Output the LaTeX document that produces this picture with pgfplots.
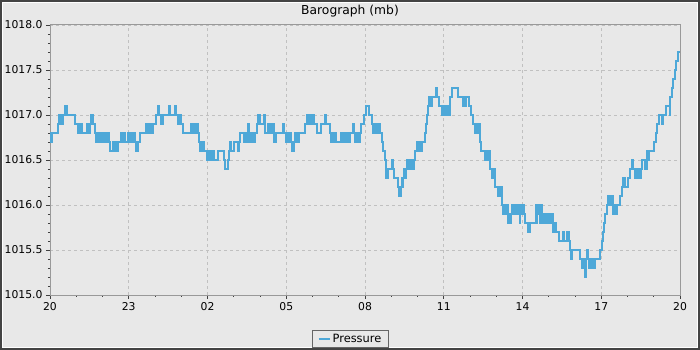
\documentclass[border=0pt]{standalone}
\usepackage{fontspec}
\setmainfont{DejaVu Sans}
\usepackage{pgfplots}
\usepackage{pgfplotstable}
\pgfplotsset{compat=1.18}
\definecolor{bgc}{RGB}{232,232,232}
\definecolor{framec}{RGB}{68,68,68}
\definecolor{linec}{RGB}{78,168,216}
\definecolor{axisc}{RGB}{153,153,153}
\definecolor{gridc}{RGB}{192,192,192}

\pgfplotstableread{
h v
0.00 1016.7
0.03 1016.8
0.06 1016.7
0.09 1016.8
0.30 1016.9
0.36 1017.0
0.40 1016.9
0.48 1017.0
0.58 1017.1
0.66 1017.0
0.94 1016.9
1.06 1016.8
1.08 1016.9
1.11 1016.8
1.14 1016.9
1.17 1016.8
1.20 1016.9
1.23 1016.8
1.40 1016.9
1.43 1016.8
1.46 1016.9
1.49 1016.8
1.52 1016.9
1.55 1017.0
1.63 1016.9
1.70 1016.8
1.77 1016.7
1.80 1016.8
1.84 1016.7
1.88 1016.8
1.92 1016.7
1.96 1016.8
2.00 1016.7
2.08 1016.8
2.11 1016.7
2.14 1016.8
2.17 1016.7
2.20 1016.8
2.24 1016.7
2.27 1016.6
2.40 1016.7
2.43 1016.6
2.47 1016.7
2.50 1016.6
2.54 1016.7
2.57 1016.6
2.59 1016.7
2.72 1016.8
2.75 1016.7
2.78 1016.8
2.81 1016.7
2.84 1016.8
2.87 1016.7
2.96 1016.8
2.99 1016.7
3.02 1016.8
3.05 1016.7
3.08 1016.8
3.11 1016.7
3.14 1016.8
3.17 1016.7
3.20 1016.8
3.23 1016.7
3.29 1016.6
3.36 1016.7
3.44 1016.8
3.65 1016.9
3.68 1016.8
3.71 1016.9
3.74 1016.8
3.77 1016.9
3.80 1016.8
3.83 1016.9
3.86 1016.8
3.92 1016.9
4.05 1017.0
4.11 1017.1
4.16 1017.0
4.24 1016.9
4.32 1017.0
4.52 1017.1
4.56 1017.0
4.75 1017.1
4.79 1017.0
4.87 1016.9
4.90 1017.0
4.93 1016.9
4.96 1017.0
5.00 1016.9
5.06 1016.8
5.38 1016.9
5.41 1016.8
5.44 1016.9
5.47 1016.8
5.50 1016.9
5.53 1016.8
5.56 1016.9
5.62 1016.8
5.66 1016.7
5.70 1016.6
5.73 1016.7
5.76 1016.6
5.79 1016.7
5.82 1016.6
5.85 1016.7
5.88 1016.6
5.98 1016.5
6.05 1016.6
6.08 1016.5
6.11 1016.6
6.14 1016.5
6.17 1016.6
6.25 1016.5
6.40 1016.6
6.62 1016.5
6.68 1016.4
6.78 1016.5
6.83 1016.6
6.86 1016.7
6.89 1016.6
7.01 1016.7
7.18 1016.6
7.21 1016.7
7.25 1016.8
7.38 1016.7
7.41 1016.8
7.44 1016.7
7.47 1016.8
7.50 1016.7
7.56 1016.9
7.59 1016.8
7.62 1016.7
7.66 1016.8
7.70 1016.7
7.74 1016.8
7.78 1016.7
7.82 1016.8
7.88 1016.9
7.92 1017.0
7.95 1016.9
7.98 1017.0
8.01 1016.9
8.15 1017.0
8.20 1016.8
8.31 1016.9
8.34 1016.8
8.37 1016.9
8.40 1016.8
8.43 1016.9
8.46 1016.8
8.49 1016.9
8.52 1016.8
8.55 1016.7
8.60 1016.8
8.86 1016.9
8.90 1016.8
8.98 1016.7
9.01 1016.8
9.04 1016.7
9.07 1016.8
9.10 1016.7
9.14 1016.8
9.18 1016.7
9.20 1016.6
9.23 1016.7
9.26 1016.6
9.30 1016.7
9.34 1016.8
9.37 1016.7
9.40 1016.8
9.43 1016.7
9.47 1016.8
9.72 1016.9
9.80 1017.0
9.83 1016.9
9.86 1017.0
9.89 1016.9
9.92 1017.0
9.95 1016.9
9.98 1017.0
10.01 1016.9
10.04 1017.0
10.07 1016.9
10.18 1016.8
10.34 1016.9
10.46 1017.0
10.52 1016.9
10.65 1016.8
10.72 1016.7
10.75 1016.8
10.78 1016.7
10.81 1016.8
10.88 1016.7
11.10 1016.8
11.13 1016.7
11.16 1016.8
11.19 1016.7
11.22 1016.8
11.25 1016.7
11.28 1016.8
11.31 1016.7
11.34 1016.8
11.37 1016.7
11.42 1016.8
11.54 1016.9
11.57 1016.8
11.61 1016.7
11.64 1016.8
11.67 1016.7
11.70 1016.8
11.73 1016.7
11.76 1016.8
11.79 1016.7
11.82 1016.8
11.86 1016.9
11.96 1017.0
12.04 1017.1
12.15 1017.0
12.25 1016.9
12.30 1016.8
12.33 1016.9
12.36 1016.8
12.39 1016.9
12.42 1016.8
12.45 1016.9
12.48 1016.8
12.51 1016.9
12.54 1016.8
12.56 1016.9
12.59 1016.8
12.64 1016.7
12.70 1016.6
12.76 1016.5
12.79 1016.3
12.82 1016.4
12.85 1016.3
12.88 1016.4
13.03 1016.5
13.06 1016.4
13.12 1016.3
13.24 1016.2
13.30 1016.1
13.36 1016.2
13.40 1016.3
13.43 1016.2
13.46 1016.3
13.50 1016.4
13.53 1016.3
13.56 1016.4
13.59 1016.5
13.62 1016.4
13.65 1016.5
13.68 1016.4
13.71 1016.5
13.74 1016.4
13.77 1016.5
13.80 1016.4
13.83 1016.5
13.86 1016.4
13.88 1016.5
13.92 1016.6
13.98 1016.7
14.02 1016.6
14.05 1016.7
14.08 1016.6
14.11 1016.7
14.14 1016.6
14.17 1016.7
14.27 1016.8
14.31 1016.9
14.36 1017.0
14.41 1017.1
14.44 1017.2
14.47 1017.1
14.50 1017.2
14.53 1017.1
14.56 1017.2
14.69 1017.3
14.74 1017.2
14.80 1017.1
14.95 1017.0
14.98 1017.1
15.01 1017.0
15.04 1017.1
15.07 1017.0
15.10 1017.1
15.13 1017.0
15.16 1017.1
15.19 1017.0
15.22 1017.1
15.24 1017.2
15.31 1017.3
15.53 1017.2
15.75 1017.1
15.78 1017.2
15.81 1017.1
15.84 1017.2
15.96 1017.1
16.04 1017.0
16.13 1016.9
16.19 1016.8
16.22 1016.9
16.25 1016.8
16.28 1016.9
16.31 1016.8
16.34 1016.9
16.38 1016.7
16.41 1016.6
16.57 1016.5
16.60 1016.6
16.63 1016.5
16.66 1016.6
16.69 1016.5
16.72 1016.6
16.76 1016.4
16.84 1016.3
16.87 1016.4
16.90 1016.3
16.93 1016.4
16.95 1016.2
17.08 1016.1
17.11 1016.2
17.14 1016.1
17.17 1016.2
17.21 1016.0
17.25 1015.9
17.28 1016.0
17.31 1015.9
17.34 1016.0
17.37 1015.9
17.40 1016.0
17.43 1015.9
17.46 1015.8
17.50 1015.9
17.53 1015.8
17.56 1015.9
17.59 1016.0
17.62 1015.9
17.65 1016.0
17.68 1015.9
17.71 1016.0
17.74 1015.9
17.77 1016.0
17.80 1015.9
17.83 1016.0
17.86 1015.9
17.89 1015.8
17.92 1015.9
17.95 1016.0
17.99 1015.9
18.02 1016.0
18.05 1015.9
18.10 1015.8
18.20 1015.7
18.27 1015.8
18.50 1016.0
18.53 1015.8
18.56 1016.0
18.59 1015.9
18.62 1016.0
18.65 1015.8
18.68 1015.9
18.71 1016.0
18.74 1015.8
18.77 1015.9
18.80 1015.8
18.83 1015.9
18.86 1015.8
18.89 1015.9
18.92 1015.8
18.95 1015.9
18.98 1015.8
19.01 1015.9
19.04 1015.8
19.07 1015.9
19.10 1015.8
19.13 1015.9
19.17 1015.7
19.20 1015.8
19.23 1015.7
19.26 1015.8
19.29 1015.7
19.40 1015.6
19.55 1015.7
19.58 1015.6
19.68 1015.7
19.71 1015.6
19.74 1015.7
19.77 1015.6
19.81 1015.5
19.86 1015.4
19.89 1015.5
20.19 1015.4
20.25 1015.3
20.28 1015.4
20.31 1015.3
20.34 1015.4
20.37 1015.2
20.40 1015.4
20.47 1015.5
20.50 1015.4
20.55 1015.3
20.58 1015.4
20.61 1015.3
20.64 1015.4
20.67 1015.3
20.70 1015.4
20.73 1015.3
20.76 1015.4
20.95 1015.5
21.02 1015.6
21.06 1015.7
21.10 1015.8
21.15 1015.9
21.21 1016.0
21.24 1016.1
21.27 1016.0
21.30 1016.1
21.33 1016.0
21.36 1016.1
21.39 1016.0
21.42 1016.1
21.45 1015.9
21.48 1016.0
21.51 1015.9
21.54 1016.0
21.57 1015.9
21.61 1016.0
21.72 1016.1
21.78 1016.2
21.82 1016.3
21.85 1016.2
21.88 1016.3
21.91 1016.2
22.03 1016.3
22.10 1016.4
22.17 1016.5
22.21 1016.4
22.30 1016.3
22.33 1016.4
22.36 1016.3
22.39 1016.4
22.42 1016.3
22.45 1016.4
22.48 1016.3
22.51 1016.4
22.54 1016.5
22.66 1016.4
22.73 1016.5
22.76 1016.6
22.79 1016.5
22.82 1016.6
23.02 1016.7
23.08 1016.8
23.14 1016.9
23.21 1017.0
23.33 1016.9
23.36 1017.0
23.47 1017.1
23.60 1017.0
23.63 1017.2
23.68 1017.3
23.72 1017.4
23.80 1017.5
23.86 1017.6
23.94 1017.7
24.00 1017.7
}\pressure

\begin{document}
\begin{tikzpicture}[x=1pt,y=1pt]
\useasboundingbox (0,0) rectangle (700,350);
\fill[bgc] (0,0) rectangle (700,350);
\draw[framec, line width=2pt] (1,1) rectangle (699,349);
\draw[white, line width=1pt] (2.5,2.5) rectangle (697.5,347.5);
\node[font=\fontsize{12.3}{14}\selectfont, anchor=center] at (350,338.5) {Barograph (mb)};
\begin{axis}[
  at={(50pt,55pt)}, anchor=south west,
  scale only axis, width=630pt, height=270pt,
  xmin=0, xmax=24, ymin=1015, ymax=1018,
  xtick={0,3,...,24},
  xticklabels={20,23,02,05,08,11,14,17,20},
  ytick={1015,1015.5,1016,1016.5,1017,1017.5,1018},
  yticklabels={1015.0,1015.5,1016.0,1016.5,1017.0,1017.5,1018.0},
  minor x tick num=2, minor y tick num=4,
  tick align=outside, xtick pos=bottom, ytick pos=left,
  major tick length=4pt, minor tick length=2pt,
  tick style={black!75, line width=0.8pt},
  axis line style={axisc, line width=1pt},
  grid=major,
  major grid style={gridc, dash pattern=on 3pt off 3pt, line width=0.8pt},
  tick label style={font=\fontsize{10.8}{12}\selectfont},
  legend style={at={(0.477,-0.162)}, anchor=center, draw=black!60, fill=bgc,
    font=\fontsize{11.4}{13}\selectfont, inner xsep=5pt, inner ysep=2pt},
  legend image code/.code={\draw[linec, line width=2pt] (0pt,0pt) -- (11pt,0pt);},
]
\addplot[const plot, linec, line width=2pt, mark=none] table[x=h, y=v] {\pressure};
\addlegendentry{Pressure}
\end{axis}
\end{tikzpicture}
\end{document}
